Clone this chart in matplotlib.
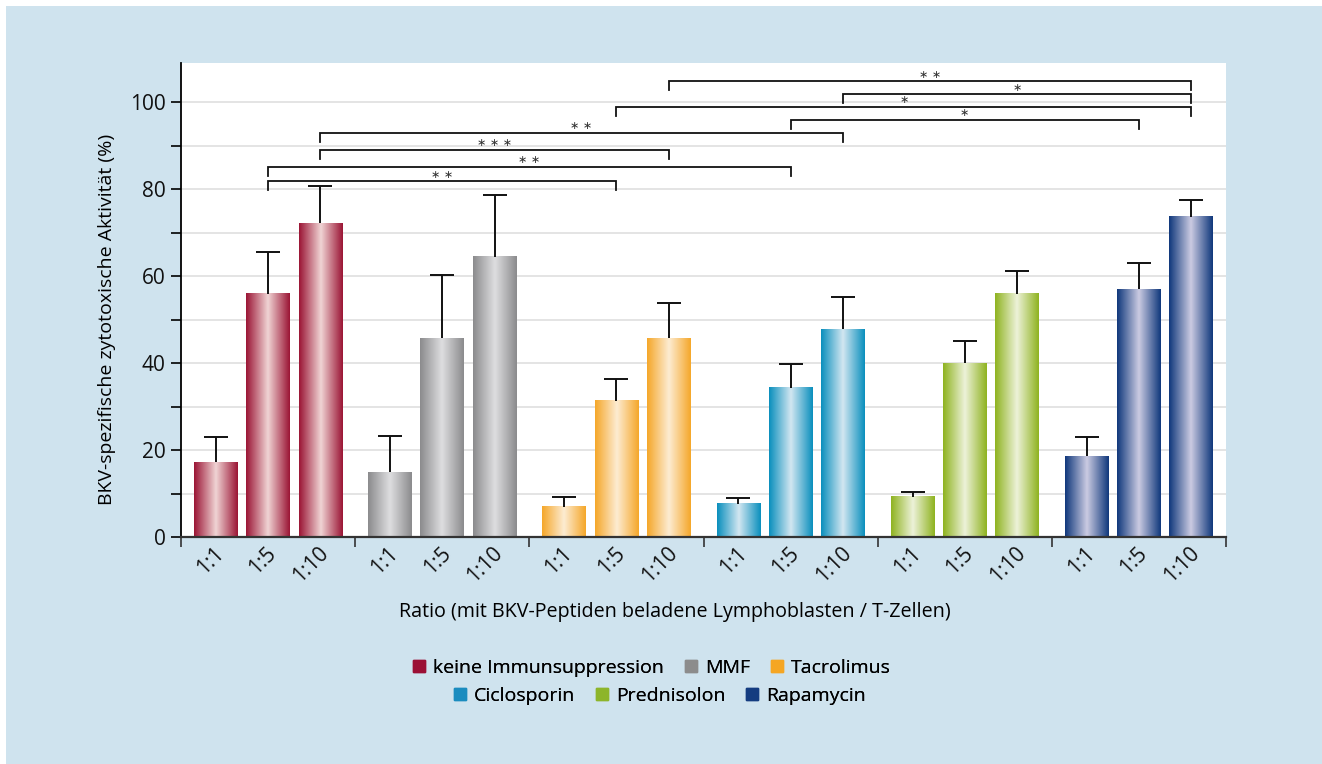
import matplotlib.pyplot as plt
import numpy as np
from matplotlib.colors import LinearSegmentedColormap
from matplotlib.patches import Rectangle
from matplotlib.lines import Line2D

plt.rcParams['font.family'] = ['Open Sans', 'DejaVu Sans']

# data
gruppen = ["keine Immunsuppression", "MMF", "Tacrolimus",
           "Ciclosporin", "Prednisolon", "Rapamycin"]
ratios = ["1:1", "1:5", "1:10"]
mittel_keine = [17.2, 55.9, 72.2]
mittel_mmf = [14.9, 45.7, 64.4]
mittel_tacro = [6.9, 31.3, 45.7]
mittel_ciclo = [7.6, 34.3, 47.8]
mittel_pred = [9.2, 40.0, 55.9]
mittel_rapa = [18.6, 57.0, 73.6]
fehler_keine = [5.8, 9.6, 8.5]
fehler_mmf = [8.3, 14.5, 14.2]
fehler_tacro = [2.3, 5.0, 8.1]
fehler_ciclo = [1.4, 5.5, 7.4]
fehler_pred = [1.1, 5.1, 5.2]
fehler_rapa = [4.4, 6.0, 3.9]

# Signifikanz: (gruppe, ratio) -> (gruppe, ratio), hoehe, sterne
sig_von = [(0, 1), (0, 1), (0, 2), (0, 2), (3, 1), (2, 1), (3, 2), (2, 2)]
sig_bis = [(2, 1), (3, 1), (2, 2), (3, 2), (5, 1), (5, 2), (5, 2), (5, 2)]
sig_hoehe = [81.8, 85.1, 89.0, 92.9, 95.9, 98.9, 101.8, 104.8]
sig_text = ["∗ ∗", "∗ ∗", "∗ ∗ ∗", "∗ ∗", "∗", "∗", "∗", "∗ ∗"]

mittel = [mittel_keine, mittel_mmf, mittel_tacro, mittel_ciclo, mittel_pred, mittel_rapa]
fehler = [fehler_keine, fehler_mmf, fehler_tacro, fehler_ciclo, fehler_pred, fehler_rapa]

farben = ["#9b1535", "#8b8b8d", "#f5a72a", "#0a8fbd", "#8fb320", "#10387c"]
hell = ["#f0d4d4", "#dedee0", "#fdecd2", "#d2e7f1", "#edf2d9", "#cbcbe2"]
leg_farben = ["#9b1035", "#8c8c8c", "#f5a623", "#1a8cbf", "#8db52a", "#143c80"]
blau_bg = "#cfe3ee"

fig = plt.figure(figsize=(13.22, 7.64), dpi=100, facecolor=blau_bg)
fig.patches.append(Rectangle((0, 0), 6 / 1322, 1, transform=fig.transFigure,
                             facecolor="white", edgecolor="none", zorder=0))
fig.patches.append(Rectangle((0, 1 - 6 / 764), 1, 6 / 764, transform=fig.transFigure,
                             facecolor="white", edgecolor="none", zorder=0))

ax = fig.add_axes([181 / 1322, 1 - 537 / 764, (1226 - 181) / 1322, (537 - 63) / 764])
ax.set_facecolor("white")

offs = np.array([0.2, 0.5, 0.8])
breite = 0.25


def pos(g, r):
    return g + offs[r]


t = np.linspace(0, 1, 200)
for g in range(len(gruppen)):
    xs = g + offs
    bars = ax.bar(xs, mittel[g], width=breite, color="none", edgecolor="none", zorder=2)
    cmap = LinearSegmentedColormap.from_list("g%d" % g, [farben[g], hell[g], farben[g]])
    for b in bars:
        x0, y0 = b.get_x(), b.get_y()
        ax.imshow(t[None, :], cmap=cmap, aspect="auto", interpolation="bilinear",
                  extent=[x0, x0 + b.get_width(), y0, y0 + b.get_height()], zorder=2)
    eb = ax.errorbar(xs, mittel[g], yerr=[np.zeros(3), fehler[g]], fmt="none",
                     ecolor="#111111", elinewidth=1.4, capsize=8.5, capthick=1.4, zorder=3)
    eb[1][0].set_visible(False)

# Signifikanzklammern
for (g1, r1), (g2, r2), h, s in zip(sig_von, sig_bis, sig_hoehe, sig_text):
    x1, x2 = pos(g1, r1), pos(g2, r2)
    ax.plot([x1, x1, x2, x2], [h - 2.0, h, h, h - 2.0], color="#111111", lw=1.3,
            zorder=4, solid_joinstyle="miter")
    ax.text((x1 + x2) / 2, h + 0.4, s, ha="center", va="bottom", fontsize=8,
            color="#333333", family="DejaVu Sans", zorder=4)

ax.set_xlim(0, 6)
ax.set_ylim(0, 109)
ax.set_yticks(np.arange(0, 101, 20))
ax.set_yticks(np.arange(10, 101, 20), minor=True)
ax.set_xticks(np.arange(0, 7))
ax.set_xticklabels([])
ax.yaxis.grid(True, which="both", color="#e2e2e2", lw=1.3, zorder=0)
ax.set_axisbelow(True)
for sp in ["top", "right"]:
    ax.spines[sp].set_visible(False)
ax.spines["left"].set_linewidth(1.3)
ax.spines["bottom"].set_linewidth(1.6)
ax.spines["bottom"].set_color("#333333")
ax.tick_params(axis="y", which="both", length=7, width=1.2, labelsize=15, pad=4,
               labelcolor="#111111")
ax.tick_params(axis="x", length=7, width=1.2, color="#333333")

# Verhaeltnis-Beschriftungen
for g in range(len(gruppen)):
    for r, lab in enumerate(ratios):
        ax.text(pos(g, r) + 0.03, -3.0, lab, rotation=45, rotation_mode="anchor",
                ha="right", va="center", fontsize=15, color="#111111")

ax.set_ylabel("BKV-spezifische zytotoxische Aktivität (%)", fontsize=14)
ax.yaxis.set_label_coords(-0.062, 0.46)
fig.text(675 / 1322, 1 - 612 / 764,
         "Ratio (mit BKV-Peptiden beladene Lymphoblasten / T-Zellen)",
         ha="center", va="center", fontsize=14.2)

# Legende in zwei zentrierten Zeilen
hand = [Line2D([], [], marker="s", ls="none", markersize=9, color=c) for c in leg_farben]
for k, (yy, xx) in enumerate([(668, 651), (696, 659)]):
    fig.add_artist(fig.legend(hand[3 * k:3 * k + 3], gruppen[3 * k:3 * k + 3], loc="center",
                              bbox_to_anchor=(xx / 1322, 1 - yy / 764), ncol=3, frameon=False,
                              fontsize=14, handletextpad=0.3, columnspacing=1.0,
                              handlelength=0.8))

fig.savefig("out.png", dpi=100, facecolor=blau_bg)
